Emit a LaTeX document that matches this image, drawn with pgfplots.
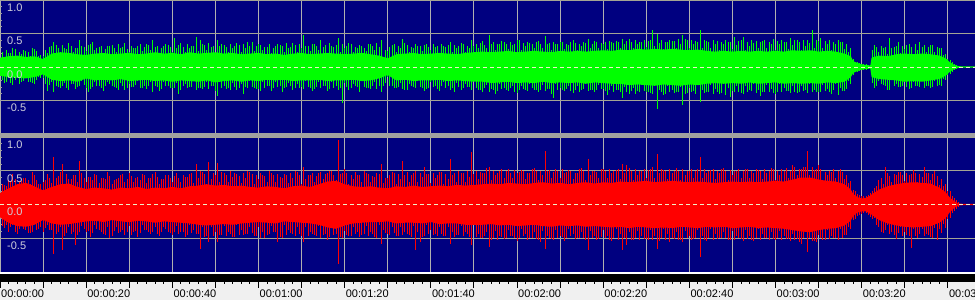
\documentclass[border=0pt]{standalone}
\usepackage{fontspec}
\setmainfont{Liberation Sans}
\usepackage{pgfplots}
\usepackage{pgfplotstable}
\pgfplotsset{compat=1.18}
\usepgfplotslibrary{fillbetween}
\definecolor{navy}{HTML}{000080}
\definecolor{wgreen}{HTML}{00FF00}
\definecolor{wred}{HTML}{FF0000}
\definecolor{sepgray}{HTML}{A0A0A0}
\definecolor{rulerbg}{HTML}{F0F0F0}
\definecolor{vgrid}{HTML}{B0B0B0}
\definecolor{hgrid}{HTML}{A4A494}
\definecolor{zdash}{HTML}{F0F0C8}
\definecolor{ylab}{HTML}{D0D0DC}

% core envelope: t, green up/low, red up/low
\pgfplotstableread{
t gu gl ru rl
0 .14 -.13 .17 -.19
2 .16 -.15 .24 -.27
4 .17 -.16 .3 -.32
6 .15 -.17 .32 -.33
8 .16 -.15 .27 -.3
10 .12 -.11 .21 -.23
12 .2 -.19 .26 -.28
14 .22 -.21 .3 -.3
16 .21 -.2 .31 -.29
18 .19 -.22 .26 -.27
20 .18 -.17 .23 -.25
22 .2 -.2 .25 -.24
24 .21 -.19 .24 -.26
26 .19 -.2 .22 -.23
28 .2 -.18 .25 -.25
30 .21 -.21 .24 -.26
32 .19 -.2 .26 -.24
34 .2 -.19 .23 -.25
36 .22 -.21 .25 -.27
38 .2 -.2 .24 -.25
40 .21 -.22 .26 -.26
42 .19 -.2 .24 -.27
44 .22 -.21 .27 -.28
46 .2 -.22 .28 -.3
48 .21 -.2 .3 -.31
50 .22 -.23 .28 -.3
52 .2 -.21 .29 -.29
54 .21 -.2 .27 -.3
56 .19 -.22 .28 -.28
58 .2 -.2 .26 -.27
60 .21 -.21 .25 -.26
62 .19 -.19 .27 -.27
64 .2 -.2 .26 -.28
66 .18 -.19 .24 -.25
68 .2 -.21 .27 -.26
70 .21 -.2 .28 -.27
72 .19 -.2 .26 -.28
74 .2 -.19 .3 -.3
76 .21 -.21 .34 -.34
78 .2 -.2 .35 -.36
80 .19 -.2 .3 -.31
82 .2 -.19 .27 -.28
84 .21 -.21 .26 -.27
86 .19 -.2 .27 -.26
88 .17 -.17 .25 -.26
90 .13 -.12 .24 -.25
92 .19 -.2 .27 -.28
94 .2 -.19 .26 -.27
96 .21 -.21 .28 -.27
98 .19 -.2 .26 -.28
100 .2 -.2 .27 -.26
102 .21 -.19 .28 -.29
104 .2 -.21 .27 -.28
106 .19 -.2 .29 -.28
108 .21 -.21 .28 -.3
110 .22 -.22 .29 -.3
112 .23 -.22 .3 -.3
114 .22 -.24 .31 -.29
116 .23 -.23 .3 -.31
118 .24 -.22 .32 -.3
120 .22 -.24 .31 -.32
122 .23 -.23 .3 -.31
124 .24 -.24 .32 -.3
126 .23 -.22 .33 -.32
128 .22 -.24 .31 -.33
130 .24 -.23 .32 -.31
132 .23 -.24 .3 -.32
134 .24 -.23 .32 -.31
136 .23 -.25 .33 -.33
138 .24 -.23 .31 -.32
140 .25 -.24 .33 -.33
142 .24 -.25 .32 -.34
144 .26 -.25 .34 -.33
146 .25 -.27 .33 -.35
148 .27 -.26 .34 -.33
150 .26 -.27 .35 -.34
152 .27 -.28 .33 -.35
154 .26 -.26 .34 -.34
156 .27 -.27 .35 -.35
158 .26 -.28 .34 -.33
160 .25 -.26 .33 -.34
162 .26 -.27 .34 -.35
164 .24 -.25 .33 -.33
166 .23 -.24 .32 -.34
168 .24 -.25 .33 -.33
170 .23 -.24 .34 -.35
172 .24 -.25 .33 -.34
174 .23 -.23 .34 -.33
176 .24 -.25 .33 -.35
178 .23 -.24 .34 -.34
180 .24 -.23 .35 -.35
182 .23 -.25 .34 -.36
184 .25 -.24 .37 -.38
186 .24 -.25 .4 -.4
188 .25 -.24 .4 -.41
190 .23 -.25 .37 -.38
192 .24 -.23 .35 -.36
194 .23 -.24 .34 -.35
196 .2 -.22 .3 -.31
197.5 .16 -.15 .22 -.24
198 .09 -.09 .16 -.17
199 .06 -.06 .11 -.12
200 .04 -.04 .09 -.1
201 .03 -.03 .1 -.1
202 .02 -.02 .13 -.14
202.3 .14 -.15 .15 -.15
204 .17 -.18 .22 -.23
206 .16 -.19 .27 -.28
208 .19 -.2 .3 -.31
210 .2 -.22 .32 -.33
212 .19 -.21 .33 -.34
214 .2 -.22 .32 -.33
216 .19 -.2 .31 -.32
218 .17 -.18 .25 -.27
219.5 .13 -.13 .18 -.2
220.5 .07 -.07 .1 -.11
221.5 .03 -.03 .05 -.05
222.5 .012 -.012 .015 -.015
223.5 .01 -.01 .01 -.01
226.3 .01 -.01 .01 -.01
}\core

% tall spikes: t, green up/down, red up/down
\pgfplotstableread{
t gsu gsl rsu rsl
0.5 .22 -.2 .3 -.32
1.5 .25 -.22 .27 -.3
2.5 .21 -.24 .35 -.34
3.5 .27 -.2 .38 -.4
4.5 .23 -.25 .34 -.37
5.5 .26 -.21 .4 -.36
6.5 .22 -.23 .37 -.42
7.5 .28 -.24 .48 -.4
8.5 .24 -.2 .36 -.38
9.5 .18 -.16 .3 -.33
10.5 .26 -.25 .36 -.35
11.5 .3 -.27 .4 -.38
12.5 .38 -.37 .7 -.73
13.5 .29 -.3 .42 -.4
14.5 .33 -.28 .6 -.68
15.5 .27 -.31 .45 -.42
16.5 .31 -.26 .38 -.44
17.5 .28 -.33 .43 -.6
18.5 .4 -.29 .65 -.41
19.5 .3 -.27 .39 -.37
20.5 .33 -.37 .41 -.39
21.5 .38 -.3 .37 -.42
22.5 .29 -.28 .44 -.36
23.5 .32 -.31 .4 -.4
24.5 .27 -.29 .38 -.45
25.5 .31 -.26 .42 -.5
26.5 .28 -.3 .36 -.39
27.5 .34 -.35 .4 -.42
28.5 .3 -.28 .45 -.38
29.5 .27 -.31 .38 -.4
30.5 .32 -.3 .42 -.45
31.5 .29 -.27 .4 -.39
32.5 .34 -.32 .37 -.42
33.5 .3 -.29 .43 -.38
34.5 .33 -.28 .39 -.41
35.5 .4 -.37 .45 -.4
36.5 .31 -.3 .41 -.44
37.5 .28 -.33 .38 -.4
38.5 .35 -.29 .44 -.37
39.5 .3 -.31 .4 -.42
40.5 .43 -.31 .42 -.4
41.5 .33 -.4 .39 -.43
42.5 .3 -.29 .44 -.41
43.5 .35 -.32 .41 -.45
44.5 .31 -.3 .46 -.42
45.5 .45 -.34 .6 -.44
46.5 .4 -.31 .5 -.66
47.5 .33 -.3 .45 -.48
48.5 .36 -.33 .63 -.55
49.5 .32 -.29 .47 -.46
50.5 .4 -.44 .62 -.55
51.5 .34 -.31 .48 -.45
52.5 .3 -.33 .44 -.47
53.5 .35 -.35 .5 -.43
54.5 .31 -.3 .46 -.48
55.5 .33 -.32 .42 -.45
56.5 .34 -.4 .47 -.45
57.5 .38 -.31 .5 -.44
58.5 .38 -.3 .45 -.42
59.5 .31 -.33 .43 -.46
60.5 .33 -.36 .46 -.5
61.5 .3 -.31 .42 -.5
62.5 .35 -.29 .5 -.44
63.5 .29 -.32 .43 -.41
64.5 .34 -.3 .45 -.55
65.5 .31 -.37 .4 -.5
66.5 .36 -.3 .44 -.45
67.5 .3 -.28 .47 -.42
68.5 .33 -.32 .5 -.46
69.5 .35 -.31 .43 -.44
70.5 .48 -.33 .55 -.55
71.5 .32 -.3 .44 -.46
72.5 .35 -.36 .46 -.43
73.5 .31 -.3 .42 -.47
74.5 .4 -.32 .48 -.5
75.5 .33 -.29 .45 -.44
76.5 .36 -.33 .5 -.48
77.5 .3 -.31 .44 -.45
78.5 .43 -.35 .95 -.88
79.5 .34 -.53 .47 -.5
80.5 .31 -.3 .46 -.45
81.5 .35 -.32 .43 -.47
82.5 .3 -.29 .48 -.44
83.5 .33 -.37 .44 -.48
84.5 .29 -.3 .5 -.43
85.5 .34 -.32 .45 -.46
86.5 .31 -.28 .42 -.44
87.5 .36 -.33 .47 -.49
88.5 .4 -.38 .6 -.58
89.5 .25 -.24 .4 -.42
90.5 .3 -.29 .44 -.45
91.5 .34 -.31 .47 -.42
92.5 .31 -.3 .45 -.47
93.5 .42 -.33 .65 -.45
94.5 .33 -.35 .48 -.44
95.5 .3 -.29 .44 -.48
96.5 .35 -.32 .5 -.68
97.5 .31 -.3 .47 -.55
98.5 .33 -.36 .55 -.46
99.5 .3 -.31 .45 -.44
100.5 .35 -.3 .46 -.45
101.5 .31 -.33 .43 -.47
102.5 .34 -.29 .48 -.44
103.5 .3 -.32 .45 -.46
104.5 .38 -.34 .68 -.58
105.5 .33 -.37 .47 -.48
106.5 .31 -.3 .5 -.45
107.5 .35 -.32 .46 -.47
108.5 .32 -.3 .49 -.44
109.5 .4 -.34 .78 -.6
110.5 .34 -.32 .5 -.48
111.5 .36 -.35 .48 -.5
112.5 .33 -.31 .46 -.47
113.5 .48 -.38 .55 -.63
114.5 .37 -.34 .5 -.5
115.5 .35 -.36 .47 -.52
116.5 .39 -.33 .52 -.48
117.5 .34 -.35 .49 -.5
118.5 .37 -.32 .46 -.47
119.5 .35 -.37 .51 -.49
120.5 .4 -.34 .48 -.5
121.5 .36 -.33 .5 -.47
122.5 .38 -.36 .47 -.52
123.5 .34 -.32 .52 -.49
124.5 .37 -.35 .49 -.51
125.5 .35 -.34 .5 -.55
126.5 .47 -.36 .8 -.66
127.5 .36 -.33 .51 -.5
128.5 .38 -.47 .48 -.52
129.5 .35 -.34 .5 -.49
130.5 .37 -.35 .52 -.48
131.5 .34 -.33 .48 -.5
132.5 .38 -.36 .5 -.47
133.5 .36 -.34 .47 -.51
134.5 .35 -.37 .52 -.49
135.5 .37 -.33 .49 -.5
136.5 .42 -.36 .68 -.67
137.5 .35 -.34 .5 -.5
138.5 .38 -.35 .48 -.52
139.5 .36 -.33 .53 -.48
140.5 .37 -.36 .5 -.5
141.5 .39 -.34 .52 -.53
142.5 .36 -.37 .49 -.5
143.5 .38 -.35 .53 -.52
144.5 .42 -.47 .6 -.68
145.5 .39 -.38 .58 -.6
146.5 .37 -.36 .5 -.52
147.5 .4 -.4 .52 -.5
148.5 .38 -.37 .49 -.53
149.5 .4 -.36 .53 -.51
150.5 .39 -.37 .51 -.52
151.5 .55 -.4 .55 -.53
152.5 .5 -.63 .75 -.66
153.5 .4 -.38 .52 -.5
154.5 .38 -.4 .5 -.53
155.5 .41 -.37 .53 -.55
156.5 .39 -.39 .5 -.51
157.5 .42 -.38 .5 -.52
158.5 .48 -.56 .52 -.55
159.5 .4 -.39 .5 -.5
160.5 .41 -.38 .52 -.53
161.5 .39 -.4 .5 -.5
162.5 .55 -.52 .7 -.78
163.5 .4 -.39 .53 -.52
164.5 .38 -.37 .5 -.5
165.5 .41 -.4 .52 -.53
166.5 .39 -.38 .49 -.51
167.5 .37 -.39 .53 -.5
168.5 .4 -.42 .5 -.5
169.5 .38 -.45 .51 -.52
170.5 .45 -.38 .5 -.52
171.5 .39 -.37 .53 -.5
172.5 .45 -.4 .5 -.54
173.5 .38 -.38 .52 -.51
174.5 .41 -.36 .49 -.53
175.5 .39 -.39 .53 -.5
176.5 .37 -.43 .5 -.52
177.5 .4 -.38 .52 -.5
178.5 .38 -.37 .5 -.53
179.5 .42 -.39 .53 -.51
180.5 .39 -.37 .5 -.5
181.5 .41 -.38 .52 -.53
182.5 .38 -.36 .54 -.51
183.5 .43 -.39 .5 -.54
184.5 .4 -.37 .55 -.52
185.5 .38 -.38 .53 -.56
186.5 .41 -.36 .56 -.5
187.5 .4 -.39 .8 -.7
188.5 .55 -.38 .55 -.54
189.5 .4 -.37 .53 -.55
190.5 .43 -.38 .52 -.5
191.5 .39 -.36 .48 -.53
192.5 .4 -.37 .5 -.51
193.5 .38 -.35 .52 -.5
194.5 .4 -.42 .5 -.52
195.5 .37 -.36 .48 -.49
196.5 .35 -.33 .44 -.45
197.5 .28 -.25 .35 -.37
198.5 .08 -.08 .2 -.22
199.5 .06 -.06 .14 -.15
200.5 .04 -.04 .12 -.12
201.5 .03 -.03 .14 -.15
202.5 .25 -.24 .2 -.22
203.5 .3 -.28 .28 -.3
204.5 .32 -.25 .4 -.4
205.5 .3 -.29 .55 -.38
206.5 .44 -.35 .42 -.43
207.5 .3 -.28 .45 -.45
208.5 .37 -.3 .48 -.42
209.5 .31 -.29 .44 -.47
210.5 .33 -.3 .46 -.45
211.5 .3 -.32 .45 -.65
212.5 .34 -.29 .47 -.46
213.5 .38 -.3 .45 -.44
214.5 .33 -.31 .55 -.47
215.5 .3 -.29 .46 -.45
216.5 .33 -.3 .45 -.5
217.5 .3 -.28 .42 -.52
218.5 .28 -.28 .38 -.42
219.5 .2 -.2 .3 -.35
220.5 .1 -.1 .2 -.2
221.5 .05 -.05 .1 -.1
222.5 .02 -.02 .04 -.04
}\spk

% medium spikes (fringe): t, green up/down, red up/down
\pgfplotstableread{
t gmu gml rmu rml
1 .15 -.24 .29 -.35
2 .21 -.16 .37 -.40
3 .28 -.27 .45 -.31
4 .14 -.17 .27 -.44
5 .20 -.22 .35 -.30
6 .24 -.13 .40 -.38
7 .16 -.23 .31 -.42
8 .27 -.25 .44 -.29
9 .17 -.15 .30 -.37
10 .17 -.16 .34 -.41
11 .21 -.36 .45 -.30
12 .31 -.22 .32 -.38
13 .33 -.28 .40 -.43
14 .23 -.32 .48 -.34
15 .29 -.24 .30 -.47
16 .36 -.35 .38 -.33
17 .22 -.25 .43 -.41
18 .28 -.30 .34 -.45
19 .32 -.21 .47 -.32
20 .24 -.31 .33 -.40
21 .35 -.33 .41 -.48
22 .25 -.23 .45 -.30
23 .30 -.29 .32 -.38
24 .21 -.36 .40 -.43
25 .31 -.22 .48 -.34
26 .33 -.28 .30 -.47
27 .23 -.32 .38 -.33
28 .29 -.24 .43 -.41
29 .36 -.35 .34 -.45
30 .22 -.25 .47 -.32
31 .28 -.30 .33 -.40
32 .32 -.21 .41 -.48
33 .24 -.31 .45 -.30
34 .35 -.33 .32 -.38
35 .25 -.23 .40 -.43
36 .30 -.29 .48 -.34
37 .21 -.36 .30 -.47
38 .31 -.22 .38 -.33
39 .33 -.28 .43 -.41
40 .23 -.32 .34 -.45
41 .29 -.24 .47 -.32
42 .36 -.35 .33 -.40
43 .22 -.25 .41 -.48
44 .28 -.30 .45 -.30
45 .32 -.21 .32 -.38
46 .24 -.31 .40 -.43
47 .35 -.33 .48 -.34
48 .25 -.23 .30 -.47
49 .30 -.29 .38 -.33
50 .21 -.36 .43 -.41
51 .31 -.22 .34 -.45
52 .33 -.28 .47 -.32
53 .23 -.32 .33 -.40
54 .29 -.24 .41 -.48
55 .36 -.35 .45 -.30
56 .22 -.25 .32 -.38
57 .28 -.30 .40 -.43
58 .32 -.21 .48 -.34
59 .24 -.31 .30 -.47
60 .35 -.33 .38 -.33
61 .25 -.23 .43 -.41
62 .30 -.29 .34 -.45
63 .21 -.36 .47 -.32
64 .31 -.22 .33 -.40
65 .33 -.28 .41 -.48
66 .23 -.32 .45 -.30
67 .29 -.24 .32 -.38
68 .36 -.35 .40 -.43
69 .22 -.25 .48 -.34
70 .28 -.30 .30 -.47
71 .32 -.21 .38 -.33
72 .24 -.31 .43 -.41
73 .35 -.33 .34 -.45
74 .25 -.23 .47 -.32
75 .30 -.29 .38 -.45
76 .21 -.36 .46 -.53
77 .31 -.22 .50 -.35
78 .33 -.28 .37 -.43
79 .23 -.32 .45 -.48
80 .29 -.24 .53 -.39
81 .36 -.35 .30 -.47
82 .22 -.25 .38 -.33
83 .28 -.30 .43 -.41
84 .32 -.21 .34 -.45
85 .24 -.31 .47 -.32
86 .35 -.33 .33 -.40
87 .25 -.23 .41 -.48
88 .30 -.29 .45 -.30
89 .14 -.29 .32 -.38
90 .24 -.15 .40 -.43
91 .33 -.28 .48 -.34
92 .23 -.32 .30 -.47
93 .29 -.24 .38 -.33
94 .36 -.35 .43 -.41
95 .22 -.25 .34 -.45
96 .28 -.30 .47 -.32
97 .32 -.21 .33 -.40
98 .24 -.31 .41 -.48
99 .35 -.33 .45 -.30
100 .25 -.23 .32 -.38
101 .30 -.29 .40 -.43
102 .21 -.36 .48 -.34
103 .31 -.22 .30 -.47
104 .33 -.28 .38 -.33
105 .23 -.32 .43 -.41
106 .29 -.24 .34 -.45
107 .36 -.35 .47 -.32
108 .22 -.25 .33 -.40
109 .28 -.30 .41 -.48
110 .32 -.21 .45 -.30
111 .28 -.35 .38 -.44
112 .39 -.37 .46 -.49
113 .29 -.27 .54 -.40
114 .34 -.33 .36 -.53
115 .25 -.40 .44 -.39
116 .35 -.26 .49 -.47
117 .37 -.32 .40 -.51
118 .27 -.36 .53 -.38
119 .33 -.28 .39 -.46
120 .40 -.39 .47 -.54
121 .26 -.29 .51 -.36
122 .32 -.34 .38 -.44
123 .36 -.25 .46 -.49
124 .28 -.35 .54 -.40
125 .39 -.37 .36 -.53
126 .29 -.27 .44 -.39
127 .34 -.33 .49 -.47
128 .25 -.40 .40 -.51
129 .35 -.26 .53 -.38
130 .37 -.32 .39 -.46
131 .27 -.36 .47 -.54
132 .33 -.28 .51 -.36
133 .40 -.39 .38 -.44
134 .26 -.29 .46 -.49
135 .32 -.34 .54 -.40
136 .36 -.25 .36 -.53
137 .28 -.35 .44 -.39
138 .39 -.37 .49 -.47
139 .29 -.27 .40 -.51
140 .34 -.33 .53 -.38
141 .27 -.42 .39 -.46
142 .37 -.28 .47 -.54
143 .39 -.34 .51 -.36
144 .29 -.38 .38 -.44
145 .35 -.30 .46 -.49
146 .42 -.41 .54 -.40
147 .28 -.31 .36 -.53
148 .34 -.36 .44 -.39
149 .38 -.27 .49 -.47
150 .30 -.37 .40 -.51
151 .41 -.39 .53 -.38
152 .31 -.29 .39 -.46
153 .36 -.35 .47 -.54
154 .27 -.42 .51 -.36
155 .37 -.28 .38 -.44
156 .39 -.34 .46 -.49
157 .29 -.38 .54 -.40
158 .35 -.30 .36 -.53
159 .42 -.41 .44 -.39
160 .28 -.31 .49 -.47
161 .34 -.36 .40 -.51
162 .38 -.27 .53 -.38
163 .28 -.35 .39 -.46
164 .39 -.37 .47 -.54
165 .29 -.27 .51 -.36
166 .34 -.33 .38 -.44
167 .25 -.40 .46 -.49
168 .35 -.26 .54 -.40
169 .37 -.32 .36 -.53
170 .27 -.36 .44 -.39
171 .33 -.28 .49 -.47
172 .40 -.39 .40 -.51
173 .26 -.29 .53 -.38
174 .32 -.34 .39 -.46
175 .36 -.25 .47 -.54
176 .28 -.35 .51 -.36
177 .39 -.37 .38 -.44
178 .29 -.27 .46 -.49
179 .34 -.33 .54 -.40
180 .25 -.40 .36 -.53
181 .35 -.26 .44 -.39
182 .37 -.32 .49 -.47
183 .27 -.36 .40 -.51
184 .33 -.28 .58 -.43
185 .40 -.39 .44 -.51
186 .26 -.29 .52 -.59
187 .32 -.34 .56 -.41
188 .36 -.25 .43 -.49
189 .28 -.35 .51 -.54
190 .39 -.37 .59 -.45
191 .29 -.27 .35 -.52
192 .34 -.33 .43 -.38
193 .25 -.40 .48 -.46
194 .35 -.26 .39 -.50
195 .37 -.32 .52 -.37
196 .27 -.36 .38 -.45
197 .22 -.21 .32 -.33
198 .12 -.12 .22 -.23
199 .07 -.07 .16 -.17
200 .05 -.05 .13 -.14
201 .04 -.04 .13 -.13
202 .03 -.03 .17 -.18
203 .33 -.31 .25 -.20
204 .23 -.21 .36 -.34
205 .28 -.27 .31 -.42
206 .19 -.34 .46 -.31
207 .29 -.20 .34 -.41
208 .31 -.26 .44 -.51
209 .21 -.30 .48 -.33
210 .27 -.22 .35 -.41
211 .34 -.33 .43 -.46
212 .20 -.23 .51 -.37
213 .26 -.28 .33 -.50
214 .30 -.19 .41 -.36
215 .22 -.29 .46 -.44
216 .33 -.31 .37 -.48
217 .23 -.21 .50 -.35
218 .28 -.27 .29 -.36
219 .18 -.18 .27 -.29
220 .12 -.12 .2 -.21
221 .07 -.07 .12 -.13
222 .03 -.03 .06 -.06
}\mspk

\pgfplotsset{
  layers/labelsontop/.define layer set={
    axis background,axis grid,axis ticks,axis lines,pre main,main,axis tick labels,axis descriptions,axis foreground
  }{/pgfplots/layers/standard},
  panel/.style={
    set layers=labelsontop,
    scale only axis, width=975bp, anchor=north west,
    xmin=0, xmax=226.3,
    axis background/.style={fill=navy},
    axis line style={draw=none},
    xtick={0,10,...,220}, xticklabels={},
    xtick style={draw=none},
    xmajorgrids, major x grid style={vgrid, line width=1bp},
    ytick={-0.5,0,0.5,1}, yticklabels={-0.5,0.0,0.5,1.0},
    minor y tick num=4, ytick pos=left, tick align=inside,
    ytick style={sepgray, line width=0.8bp},
    major tick length=3bp, minor tick length=2bp,
    extra y ticks={-0.5,0.5,1}, extra y tick labels={},
    extra y tick style={ymajorgrids, major y grid style={hgrid, line width=1bp}, ytick style={draw=none}},
    yticklabel style={anchor=north west, inner sep=0pt, xshift=7bp, yshift=-3.5bp,
      text=ylab, font=\fontsize{11bp}{13bp}\selectfont},
  }
}

\begin{document}
\begin{tikzpicture}
\fill[sepgray] (0,-133bp) rectangle (975bp,-137bp);
\fill[white] (0,-272bp) rectangle (975bp,-273.5bp);
\fill[black] (0,-273.5bp) rectangle (975bp,-282bp);
\fill[rulerbg] (0,-282bp) rectangle (975bp,-300bp);

% top channel
\begin{axis}[panel, at={(0bp,0bp)}, height=133bp, ymin=-0.985, ymax=1]
\addplot[name path=gU, draw=none] table[x=t,y=gu]{\core};
\addplot[name path=gL, draw=none] table[x=t,y=gl]{\core};
\addplot[fill=wgreen, draw=none] fill between[of=gU and gL];
\addplot[ycomb, draw=wgreen, line width=1bp] table[x=t,y=gmu]{\mspk};
\addplot[ycomb, draw=wgreen, line width=1bp] table[x=t,y=gml]{\mspk};
\addplot[ycomb, draw=wgreen, line width=1bp] table[x=t,y=gsu]{\spk};
\addplot[ycomb, draw=wgreen, line width=1bp] table[x=t,y=gsl]{\spk};
\addplot[zdash, line width=0.8bp, dash pattern=on 4bp off 3bp] coordinates {(0,0) (226.3,0)};
\end{axis}

% bottom channel
\begin{axis}[panel, at={(0bp,-137bp)}, height=135bp, ymin=-1, ymax=1]
\addplot[name path=rU, draw=none] table[x=t,y=ru]{\core};
\addplot[name path=rL, draw=none] table[x=t,y=rl]{\core};
\addplot[fill=wred, draw=none] fill between[of=rU and rL];
\addplot[ycomb, draw=wred, line width=1bp] table[x=t,y=rmu]{\mspk};
\addplot[ycomb, draw=wred, line width=1bp] table[x=t,y=rml]{\mspk};
\addplot[ycomb, draw=wred, line width=1bp] table[x=t,y=rsu]{\spk};
\addplot[ycomb, draw=wred, line width=1bp] table[x=t,y=rsl]{\spk};
\addplot[zdash, line width=0.8bp, dash pattern=on 4bp off 3bp] coordinates {(0,0) (226.3,0)};
\end{axis}

% time ruler
\begin{axis}[at={(0bp,-282bp)}, anchor=north west, scale only axis,
  width=975bp, height=18bp, xmin=0, xmax=226.3, ymin=0, ymax=1,
  axis background/.style={fill=rulerbg}, axis line style={draw=none},
  ytick=\empty,
  xtick={0,10,...,220},
  xticklabels={00:00:00,,00:00:20,,00:00:40,,00:01:00,,00:01:20,,00:01:40,,00:02:00,,00:02:20,,00:02:40,,00:03:00,,00:03:20,,00:03:40},
  minor x tick num=4,
  xtick pos=right, xticklabel pos=left, tick align=inside,
  major tick length=6bp, minor tick length=1.5bp,
  xtick style={black, line width=1bp},
  xticklabel style={anchor=south west, inner sep=0pt, xshift=1bp, yshift=2.5bp,
    text=black, font=\fontsize{11bp}{13bp}\selectfont}]
\addplot[draw=none] coordinates {(0,0) (226.3,1)};
\end{axis}
\pgfresetboundingbox
\useasboundingbox (0,0) rectangle (975bp,-300bp);
\end{tikzpicture}
\end{document}
